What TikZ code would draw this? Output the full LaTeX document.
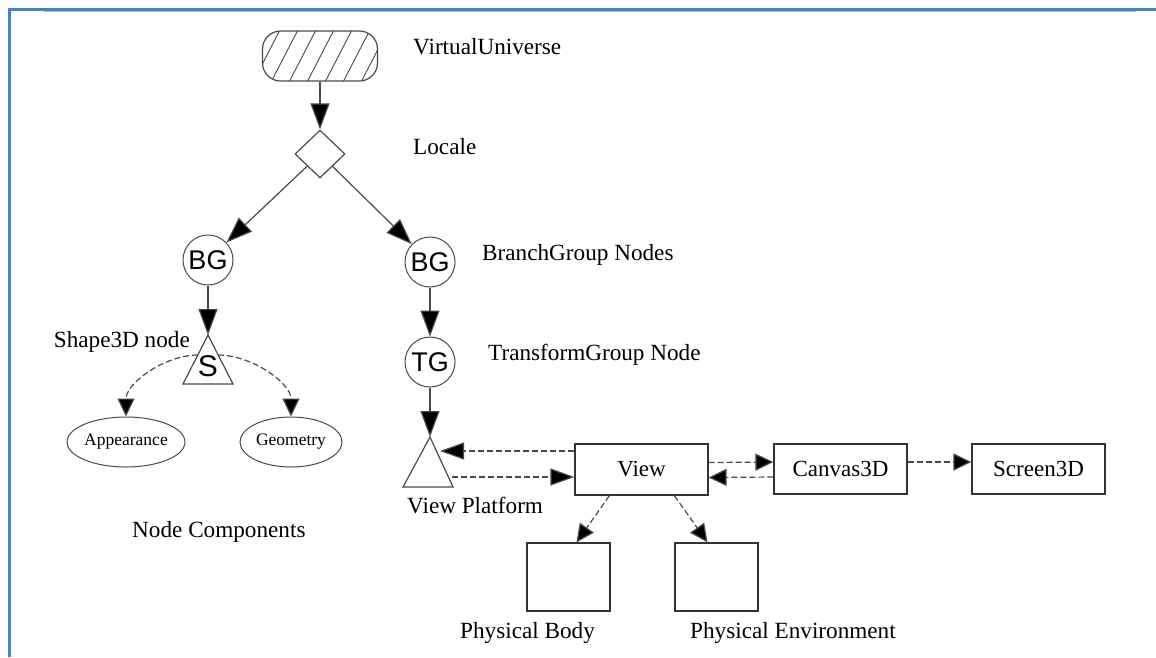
\documentclass[tikz,border=0pt]{standalone}
\usepackage{fontspec}
\setmainfont{Liberation Serif}
\newfontfamily\grpfont{Liberation Sans}
\usetikzlibrary{arrows.meta,shapes.geometric,calc}
\definecolor{frameblue}{HTML}{4F81BD}
\definecolor{linegray}{HTML}{4A4A4A}

\begin{document}
\begin{tikzpicture}[x=1pt,y=-1pt,
  edge/.style={draw=linegray, line width=1.2pt, -{Triangle[length=26pt,width=19pt,fill=black]}},
  dashedge/.style={draw=linegray, line width=1.2pt, dash pattern=on 6pt off 3pt,
    -{Triangle[length=18pt,width=17pt,fill=black]}},
  longdash/.style={dashedge, -{Triangle[length=24pt,width=17pt,fill=black]}},
  lbl/.style={font=\fontsize{23.2}{26}\selectfont, inner sep=0pt, anchor=west},
  grp/.style={circle, draw=linegray, line width=1pt, minimum size=50pt, inner sep=0pt,
    font=\grpfont\fontsize{27}{29}\selectfont},
  box/.style={rectangle, draw=black!80, line width=1.2pt, inner sep=0pt,
    font=\fontsize{23}{26}\selectfont},
  comp/.style={ellipse, draw=linegray, line width=1pt, minimum width=102pt,
    minimum height=50pt, inner sep=0pt, font=\fontsize{17.5}{20}\selectfont},
  tri/.style={draw=linegray, line width=1.2pt, line join=miter},
]
\useasboundingbox (0,0) rectangle (1156,657);
\fill[white] (0,0) rectangle (1156,657);

% page frame
\draw[gray!55, line width=1.5pt] (44,11) -- (1136,11);
\draw[frameblue, line width=3pt] (9,657) -- (9,9) -- (1156,9);

% scene graph root and locale
\node[draw=linegray, line width=1.2pt, rounded corners=18pt, minimum width=115pt,
  minimum height=50pt, inner sep=0pt,
  path picture={
    \foreach \i in {-7,...,7}
      \draw[linegray, line width=0.9pt]
        ($(path picture bounding box.center)+(\i*18-15,30)$) -- ++(31,-60);
  }] (vu) at (320,56) {};
\node[lbl] (vutext) at (413,47) {VirtualUniverse};

\node[diamond, draw=linegray, line width=1.2pt, minimum width=50pt, minimum height=48pt,
  inner sep=0pt] (loc) at (320,154) {};
\node[lbl] (loctext) at (413,147) {Locale};

% branch groups
\node[grp] (bg1) at (208,260) {BG};
\node[grp] (bg2) at (430,262) {BG};
\node[lbl] (bgtext) at (482,255) {BranchGroup Nodes};
\node[grp] (tg) at (430,362) {TG};
\node[lbl] (tgtext) at (488,355) {TransformGroup Node};

\draw[edge] (vu) -- (loc);
\draw[edge] (loc) -- (bg1);
\draw[edge] (loc) -- (bg2);
\draw[edge] (bg2) -- (tg);

% Shape3D leaf
\coordinate (sapex) at (208,335);
\coordinate (sbl) at (183,384);
\coordinate (sbr) at (233,384);
\draw[tri] (sapex) -- (sbr) -- (sbl) -- cycle;
\node[font=\grpfont\fontsize{30}{32}\selectfont, inner sep=0pt] (s) at (208,366) {S};
\node[lbl, anchor=east] (shapetext) at (190,342) {Shape3D node};
\coordinate (sleft) at (198,355);
\coordinate (sright) at (218,355);
\draw[edge] (bg1) -- (sapex);

\node[comp] (app) at (126,442) {Appearance};
\node[comp] (geo) at (291,442) {Geometry};
\draw[dashedge] (sleft) to[out=180,in=90,looseness=0.9] (app.north);
\draw[dashedge] (sright) to[out=0,in=90,looseness=0.9] (geo.north);
\node[lbl] (nctext) at (132,532) {Node Components};

% view branch
\coordinate (vpapex) at (430,437);
\coordinate (vpbl) at (403,487);
\coordinate (vpbr) at (453,487);
\draw[tri] (vpapex) -- (vpbr) -- (vpbl) -- cycle;
\node[lbl] (vptext) at (407,505) {View Platform};
\draw[edge] (tg) -- (vpapex);

\node[box, minimum width=133pt, minimum height=51pt] (view) at (641.5,469.5) {View};
\node[box, minimum width=133pt, minimum height=50pt] (canvas) at (840.5,469) {Canvas3D};
\node[box, minimum width=133pt, minimum height=50pt] (screen) at (1038.5,469) {Screen3D};

\coordinate (vpup) at (440,451);
\coordinate (vplow) at (452,477);
\draw[longdash] (view.west |- vpup) -- (vpup);
\draw[longdash] (vplow) -- (view.west |- vplow);

\draw[dashedge] ($(view.east)+(0,-7)$) -- ($(canvas.west)+(0,-7)$);
\draw[dashedge] ($(canvas.west)+(0,8)$) -- ($(view.east)+(0,8)$);
\draw[dashedge] ($(canvas.east)+(0,-7)$) -- ($(screen.west)+(0,-7)$);

\node[box, minimum width=83pt, minimum height=68pt] (body) at (568.5,577) {};
\node[box, minimum width=83pt, minimum height=68pt] (env) at (716.5,577) {};
\draw[dashedge] ($(view.south west)+(35,0)$) -- ($(body.north)+(8,0)$);
\draw[dashedge] ($(view.south west)+(100,0)$) -- ($(env.north)+(-9,0)$);
\node[lbl] (bodytext) at (460,633) {Physical Body};
\node[lbl] (envtext) at (690,633) {Physical Environment};
\end{tikzpicture}
\end{document}
